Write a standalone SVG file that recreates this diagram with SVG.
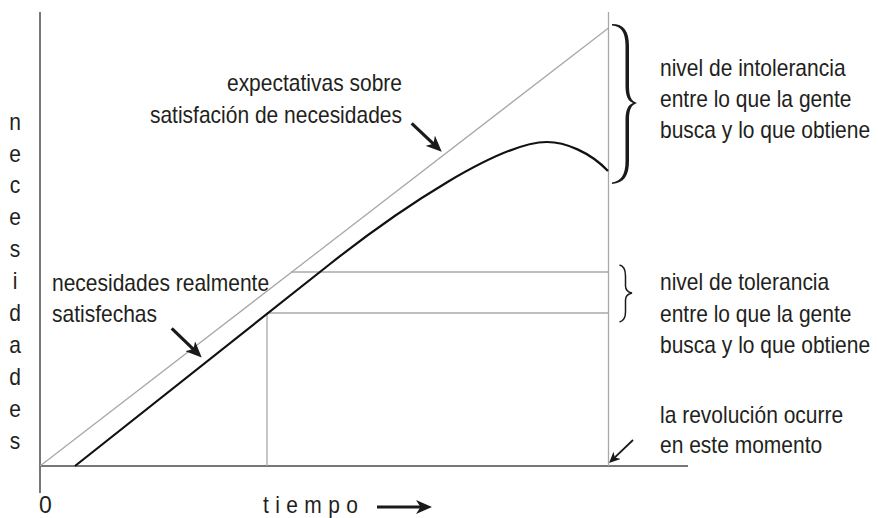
<svg xmlns="http://www.w3.org/2000/svg" width="878" height="518" viewBox="0 0 878 518">
<style>
text{font-family:"Liberation Sans",Arial,sans-serif;font-size:23px;fill:#231f20}
.axis{stroke:#4a4a4a;stroke-width:1.5;fill:none}
.guide{stroke:#a8a8a8;stroke-width:1.3;fill:none}
.curve{stroke:#111;stroke-width:2.2;fill:none}
.arrow{stroke:#1a1a1a;stroke-width:3.2;fill:none}
.arrowthin{stroke:#1a1a1a;stroke-width:1.8;fill:none}
</style>
<defs>
<marker id="head" viewBox="0 0 16 14" refX="10" refY="7" markerWidth="16" markerHeight="14" markerUnits="userSpaceOnUse" orient="auto">
<path d="M0,0 L16,7 L0,14 L4.5,7 Z" fill="#1a1a1a"/>
</marker>
<marker id="headsmall" viewBox="0 0 11 10" refX="8" refY="5" markerWidth="11" markerHeight="10" markerUnits="userSpaceOnUse" orient="auto">
<path d="M0,0 L11,5 L0,10 L3,5 Z" fill="#1a1a1a"/>
</marker>
</defs>

<g id="axes">
<line class="axis" x1="40" y1="12" x2="40" y2="493"/>
<line class="axis" x1="40" y1="466" x2="688" y2="466"/>
</g>

<g id="guides">
<line class="guide" x1="608.5" y1="12" x2="608.5" y2="466"/>
<line class="guide" x1="40" y1="466" x2="608.5" y2="28"/>
<line class="guide" x1="291" y1="272" x2="608.5" y2="272"/>
<line class="guide" x1="267" y1="313" x2="608.5" y2="313"/>
<line class="guide" x1="267" y1="313" x2="267" y2="466"/>
</g>

<g id="curve">
<path class="curve" d="M75,466 L330,264 C400,208.5 500,142 547,142 C565,142 590,152 608,171"/>
</g>

<g id="braces">
<path d="M612,24 C624,24 629,31 629,46 L629,86 C629,96 631,101 637,103 C631,105 629,110 629,120 L629,161 C629,176 624,183 612,184 L612,182.5 C621,181 625.5,175 625.5,161 L625.5,120 C625.5,110 628,105 633,103 C628,101 625.5,96 625.5,86 L625.5,46 C625.5,32 621,26 612,25.5 Z" fill="#1a1a1a"/>
<path d="M619.5,265 C624,266 625.5,270 625.5,276 L625.5,286 C625.5,290 627.5,292 632,293 C627.5,294 625.5,296 625.5,300 L625.5,312 C625.5,318 623.5,321 619.5,322" stroke="#1a1a1a" stroke-width="1.5" fill="none"/>
</g>

<g id="connectors">
<line class="arrow" x1="411.7" y1="123.3" x2="437.4" y2="147.6" marker-end="url(#head)"/>
<line class="arrow" x1="171.7" y1="328.3" x2="197.4" y2="353.2" marker-end="url(#head)"/>
<line class="arrowthin" x1="633" y1="440" x2="611.2" y2="460.9" marker-end="url(#headsmall)"/>
<line class="arrow" x1="377" y1="507" x2="426" y2="507" marker-end="url(#head)"/>
</g>

<g id="label-expectativas" text-anchor="end">
<text transform="translate(402,91) scale(0.913,1)">expectativas sobre</text>
<text transform="translate(402,123) scale(0.913,1)">satisfación de necesidades</text>
</g>

<g id="label-satisfechas">
<text transform="translate(52,291) scale(0.913,1)">necesidades realmente</text>
<text transform="translate(52,322) scale(0.913,1)">satisfechas</text>
</g>

<g id="label-intolerancia">
<text transform="translate(660,76) scale(0.913,1)">nivel de intolerancia</text>
<text transform="translate(660,107) scale(0.913,1)">entre lo que la gente</text>
<text transform="translate(660,138) scale(0.913,1)">busca y lo que obtiene</text>
</g>

<g id="label-tolerancia">
<text transform="translate(660,290) scale(0.913,1)">nivel de tolerancia</text>
<text transform="translate(660,321.5) scale(0.913,1)">entre lo que la gente</text>
<text transform="translate(660,353) scale(0.913,1)">busca y lo que obtiene</text>
</g>

<g id="label-revolucion">
<text transform="translate(660,423) scale(0.913,1)">la revolución ocurre</text>
<text transform="translate(660,453) scale(0.913,1)">en este momento</text>
</g>

<g id="label-yaxis" text-anchor="middle">
<text transform="translate(15,130) scale(0.913,1)">n</text>
<text transform="translate(15,162) scale(0.913,1)">e</text>
<text transform="translate(15,193) scale(0.913,1)">c</text>
<text transform="translate(15,225) scale(0.913,1)">e</text>
<text transform="translate(15,257) scale(0.913,1)">s</text>
<text transform="translate(15,289) scale(0.913,1)">i</text>
<text transform="translate(15,321) scale(0.913,1)">d</text>
<text transform="translate(15,353) scale(0.913,1)">a</text>
<text transform="translate(15,385) scale(0.913,1)">d</text>
<text transform="translate(15,417) scale(0.913,1)">e</text>
<text transform="translate(15,449) scale(0.913,1)">s</text>
</g>

<g id="label-xaxis">
<text x="39" y="513">0</text>
<text transform="translate(263,513) scale(0.913,1)" letter-spacing="7">tiempo</text>
</g>
</svg>
